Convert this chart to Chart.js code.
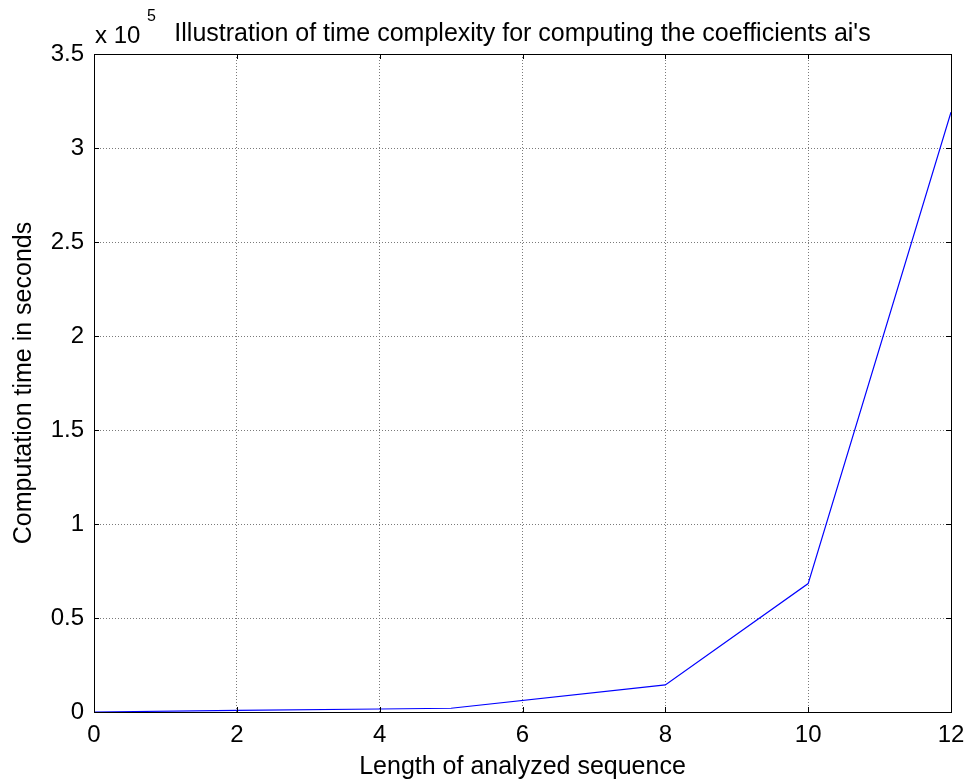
<!DOCTYPE html>
<html>
<head>
<meta charset="utf-8">
<script src="https://cdn.jsdelivr.net/npm/chart.js@4"></script>
<style>
  html, body { margin: 0; padding: 0; background: #fff; }
  #wrap { width: 967px; height: 780px; }
</style>
</head>
<body>
<div id="wrap"><canvas id="c" width="967" height="780"></canvas></div>
<script>
// Sequence lengths and measured computation times (seconds)
const seqLength = [0, 2, 4, 5, 8, 10, 12];
const compTime = [0, 900, 1600, 2000, 14400, 68300, 319000];

// Axis tick values
const xTicks = [0, 2, 4, 6, 8, 10, 12];
const yTicks = [0, 50000, 100000, 150000, 200000, 250000, 300000, 350000];

const titleText = "Illustration of time complexity for computing the coefficients ai's";
const xLabel = "Length of analyzed sequence";
const yLabel = "Computation time in seconds";
const FONT = '"Liberation Sans", Arial, Helvetica, sans-serif';

// Box, inward ticks on all four sides, and text decorations
const framePlugin = {
  id: 'frame',
  afterDraw(chart) {
    const { ctx, chartArea: a, scales } = chart;
    const xs = scales.x, ys = scales.y;
    ctx.save();
    ctx.strokeStyle = '#000';
    ctx.lineWidth = 1;
    ctx.setLineDash([]);
    ctx.strokeRect(Math.round(a.left) + 0.5, Math.round(a.top) + 0.5,
      Math.round(a.right - a.left), Math.round(a.bottom - a.top));
    const tl = 5;
    ctx.beginPath();
    xTicks.forEach(v => {
      const px = Math.round(xs.getPixelForValue(v)) + 0.5;
      ctx.moveTo(px, a.bottom); ctx.lineTo(px, a.bottom - tl);
      ctx.moveTo(px, a.top); ctx.lineTo(px, a.top + tl);
    });
    yTicks.forEach(v => {
      const py = Math.round(ys.getPixelForValue(v)) + 0.5;
      ctx.moveTo(a.left, py); ctx.lineTo(a.left + tl, py);
      ctx.moveTo(a.right, py); ctx.lineTo(a.right - tl, py);
    });
    ctx.stroke();

    ctx.fillStyle = '#000';
    // title
    ctx.font = '25px ' + FONT;
    ctx.textAlign = 'center';
    ctx.textBaseline = 'alphabetic';
    ctx.fillText(titleText, (a.left + a.right) / 2, 41);
    // exponent marker
    ctx.textAlign = 'left';
    ctx.font = '24px ' + FONT;
    ctx.fillText('x 10', 95, 43);
    ctx.font = '16px ' + FONT;
    ctx.fillText('5', 147, 21);
    // axis titles
    ctx.font = '25px ' + FONT;
    ctx.textAlign = 'center';
    ctx.fillText(xLabel, (a.left + a.right) / 2, 774);
    ctx.save();
    ctx.translate(31, (a.top + a.bottom) / 2);
    ctx.rotate(-Math.PI / 2);
    ctx.fillText(yLabel, 0, 0);
    ctx.restore();
    ctx.restore();
  }
};

new Chart(document.getElementById('c'), {
  type: 'scatter',
  data: {
    datasets: [{
      data: seqLength.map((x, i) => ({ x, y: compTime[i] })),
      showLine: true,
      borderColor: '#0000ff',
      borderWidth: 1.2,
      pointRadius: 0,
      fill: false,
      tension: 0
    }]
  },
  options: {
    responsive: false,
    animation: false,
    devicePixelRatio: 1,
    layout: { padding: { left: 0, right: 16, top: 54, bottom: 0 } },
    plugins: { legend: { display: false }, tooltip: { enabled: false }, title: { display: false } },
    scales: {
      x: {
        type: 'linear',
        min: 0, max: 12,
        afterBuildTicks(s) { s.ticks = xTicks.map(v => ({ value: v })); },
        afterFit(s) { s.height = 68; s.paddingLeft = 0; s.paddingRight = 0; },
        ticks: { color: '#000', font: { family: FONT, size: 24 }, padding: 9, maxRotation: 0 },
        grid: { color: '#7a7a7a', lineWidth: 1, drawTicks: false },
        border: { display: false, dash: [1, 2] }
      },
      y: {
        type: 'linear',
        min: 0, max: 350000,
        afterBuildTicks(s) { s.ticks = yTicks.map(v => ({ value: v })); },
        afterFit(s) { s.width = 94; s.paddingTop = 0; s.paddingBottom = 0; },
        ticks: {
          color: '#000', font: { family: FONT, size: 24 }, padding: 10,
          callback: v => String(v / 100000)
        },
        grid: { color: '#7a7a7a', lineWidth: 1, drawTicks: false },
        border: { display: false, dash: [1, 2] }
      }
    }
  },
  plugins: [framePlugin]
});
</script>
</body>
</html>
